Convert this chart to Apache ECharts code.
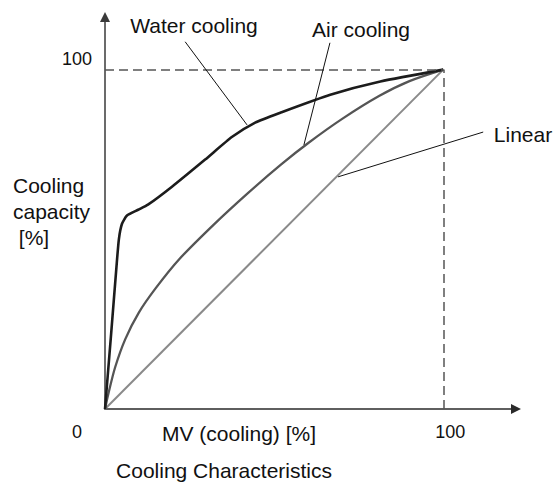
<!DOCTYPE html>
<html>
<head>
<meta charset="utf-8">
<script src="https://cdn.jsdelivr.net/npm/echarts@6/dist/echarts.min.js"></script>
<style>
  html, body { margin: 0; padding: 0; background: #fff; }
  #chart { width: 553px; height: 482px; }
</style>
</head>
<body>
<div id="chart"></div>
<script>
// curve values (MV % -> cooling capacity %)
const waterX = [0, 1.8, 3.4, 4.1, 5.0, 6.5, 9.8, 12.7, 19.8, 29.6, 37.6, 44.4, 51.8, 66.6, 81.4, 100]
const waterY = [0, 22, 42, 50, 54.5, 57, 58.7, 60.2, 65.5, 73.5, 80.2, 84.4, 87.3, 92.6, 96.5, 100]
const airX = [0, 1, 3, 6, 10, 15, 22, 32, 42, 52, 60, 70, 81, 90, 100]
const airY = [0, 4.5, 12.3, 20.6, 28.4, 35.6, 44.2, 54.2, 63.4, 72.0, 78.3, 85.4, 92.2, 96.6, 100]
const linearX = [0, 100]
const linearY = [0, 100]

const seriesNames = ['Water cooling', 'Air cooling', 'Linear']
const xTicks = [0, 100]
const yTicks = [100]
const xName = 'MV (cooling) [%]'
const yName = 'Cooling\ncapacity\n [%]'
const caption = 'Cooling Characteristics'

// leader lines: [from label, to curve]
const leaderWater = [[23.7, 108.2], [42.0, 83.7]]
const leaderAir = [[66.5, 107.9], [58.8, 77.8]]
const leaderLinear = [[111.8, 81.6], [68.9, 68.4]]

const zip = (xs, ys) => xs.map((x, i) => [x, ys[i]])

const chart = echarts.init(document.getElementById('chart'), null, { renderer: 'svg' })

const font = 'Liberation Sans, Arial, Helvetica, sans-serif'
const leaderStyle = { color: '#111', width: 1, type: 'solid' }
const dashStyle = { color: '#555', width: 1.5, type: [9, 5] }

const option = {
  animation: false,
  backgroundColor: '#fff',
  grid: { left: 105, top: 17, width: 411, height: 392 },
  xAxis: {
    type: 'value',
    min: 0,
    max: 121.5,
    axisLine: {
      show: true,
      symbol: ['none', 'triangle'],
      symbolSize: [10, 10],
      lineStyle: { color: '#2a2a2a', width: 1.5 },
    },
    axisTick: { show: false },
    splitLine: { show: false },
    axisLabel: {
      customValues: xTicks,
      margin: 14,
      fontSize: 18,
      fontFamily: font,
      color: '#111',
      formatter: v => v === 0 ? '{z|0}' : '{h|' + v + '}',
      rich: {
        z: { fontSize: 18, fontFamily: font, color: '#111', padding: [0, 56, 0, 0] },
        h: { fontSize: 18, fontFamily: font, color: '#111', padding: [0, 0, 0, 14] },
      },
    },
  },
  yAxis: {
    type: 'value',
    min: 0,
    max: 115.5,
    axisLine: {
      show: true,
      symbol: ['none', 'triangle'],
      symbolSize: [10, 10],
      lineStyle: { color: '#3a3a3a', width: 1.5 },
    },
    axisTick: { show: false },
    splitLine: { show: false },
    axisLabel: {
      customValues: yTicks,
      margin: 13,
      fontSize: 18,
      fontFamily: font,
      color: '#111',
      verticalAlign: 'bottom',
      padding: [0, 0, 2, 0],
    },
  },
  graphic: [
    { type: 'text', left: 13, top: 172, style: { text: yName, font: '21px ' + font, fill: '#111', lineHeight: 26 } },
    { type: 'text', x: 239, y: 433, style: { text: xName, font: '21px ' + font, fill: '#111', align: 'center', verticalAlign: 'middle' } },
    { type: 'text', x: 224, y: 470, style: { text: caption, font: '21px ' + font, fill: '#111', align: 'center', verticalAlign: 'middle' } },
    { type: 'text', x: 194, y: 25, style: { text: seriesNames[0], font: '21px ' + font, fill: '#111', align: 'center', verticalAlign: 'middle' } },
    { type: 'text', x: 361, y: 29, style: { text: seriesNames[1], font: '21px ' + font, fill: '#111', align: 'center', verticalAlign: 'middle' } },
    { type: 'text', x: 523, y: 134, style: { text: seriesNames[2], font: '21px ' + font, fill: '#111', align: 'center', verticalAlign: 'middle' } },
  ],
  series: [
    {
      name: seriesNames[2],
      type: 'line',
      data: zip(linearX, linearY),
      showSymbol: false,
      lineStyle: { color: '#8a8a8a', width: 2 },
      z: 2,
      markLine: {
        silent: true,
        symbol: 'none',
        label: { show: false },
        data: [
          [{ coord: [0, 100], lineStyle: dashStyle }, { coord: [100, 100] }],
          [{ coord: [100, 0], lineStyle: dashStyle }, { coord: [100, 100] }],
          [{ coord: leaderWater[0], lineStyle: leaderStyle }, { coord: leaderWater[1] }],
          [{ coord: leaderAir[0], lineStyle: leaderStyle }, { coord: leaderAir[1] }],
          [{ coord: leaderLinear[0], lineStyle: leaderStyle }, { coord: leaderLinear[1] }],
        ],
      },
    },
    {
      name: seriesNames[1],
      type: 'line',
      data: zip(airX, airY),
      showSymbol: false,
      smooth: 0.3,
      lineStyle: { color: '#555', width: 2.3 },
      z: 3,
    },
    {
      name: seriesNames[0],
      type: 'line',
      data: zip(waterX, waterY),
      showSymbol: false,
      smooth: 0.2,
      lineStyle: { color: '#1c1c1c', width: 2.6 },
      z: 4,
    },
  ],
}

chart.setOption(option)
</script>
</body>
</html>
